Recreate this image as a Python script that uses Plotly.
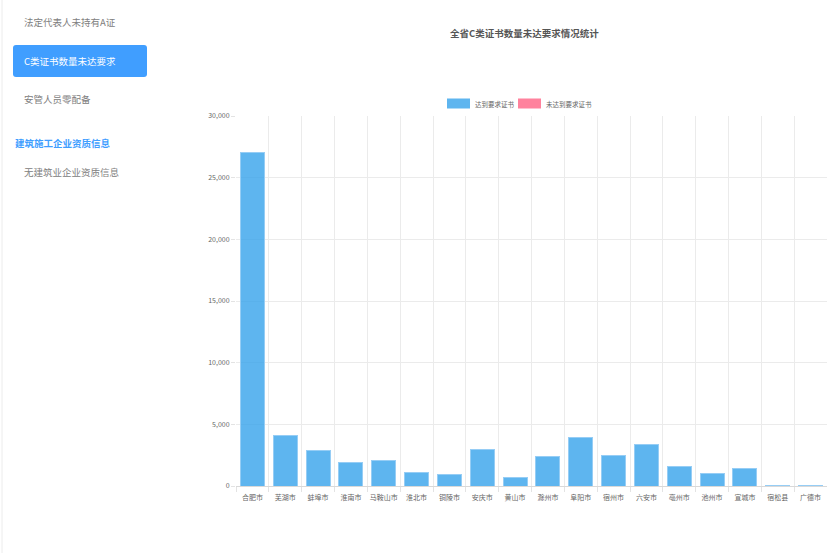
import plotly.graph_objects as go

cities = ["合肥市", "芜湖市", "蚌埠市", "淮南市", "马鞍山市", "淮北市", "铜陵市", "安庆市", "黄山市",
          "滁州市", "阜阳市", "宿州市", "六安市", "亳州市", "池州市", "宣城市", "宿松县", "广德市"]
met = [27050, 4120, 2840, 1870, 2090, 1060, 920, 2980, 650,
       2380, 3920, 2460, 3350, 1570, 1030, 1440, 30, 40]
unmet = [0] * len(cities)

series_names = ["达到要求证书", "未达到要求证书"]
series_colors = ["rgba(54,162,235,0.8)", "rgba(255,99,132,0.8)"]
y_ticks = [0, 5000, 10000, 15000, 20000, 25000, 30000]
y_ticktext = ["0", "5,000", "10,000", "15,000", "20,000", "25,000", "30,000"]

title_text = "全省C类证书数量未达要求情况统计"
menu_items = ["法定代表人未持有A证", "C类证书数量未达要求", "安管人员零配备"]
section_title = "建筑施工企业资质信息"
section_item = "无建筑业企业资质信息"

W, H = 827, 553
L, T = 236, 116
PW, PH = W - L, 370

def px(x):
    return (x - L) / PW

def py(y):
    return (T + PH - y) / PH

FONT = "Noto Sans CJK SC, sans-serif"

fig = go.Figure()
fig.add_trace(go.Bar(
    x=cities, y=met, name=series_names[0], showlegend=False,
    marker=dict(color=series_colors[0], line=dict(color="rgba(150,205,245,1)", width=1)),
))
fig.add_trace(go.Bar(
    x=cities, y=unmet, name=series_names[1], showlegend=False,
    marker=dict(color=series_colors[1], line=dict(width=0)),
))

shapes = []
# sidebar left border
shapes.append(dict(type="line", xref="paper", yref="paper", x0=px(2), x1=px(2), y0=py(0), y1=py(553),
                   line=dict(color="#ececec", width=1)))
# active menu button (rounded)
x0, x1, y0, y1, r = px(13), px(147), py(45), py(77), 3
rx, ry = r / PW, r / PH
path = (f"M {x0+rx},{y0} L {x1-rx},{y0} Q {x1},{y0} {x1},{y0-ry} L {x1},{y1+ry} Q {x1},{y1} {x1-rx},{y1} "
        f"L {x0+rx},{y1} Q {x0},{y1} {x0},{y1+ry} L {x0},{y0-ry} Q {x0},{y0} {x0+rx},{y0} Z")
shapes.append(dict(type="path", xref="paper", yref="paper", path=path,
                   fillcolor="#409eff", line=dict(width=0)))

annotations = []
menu_y = [22, 61, 99]
for i, item in enumerate(menu_items):
    annotations.append(dict(
        text=item, xref="paper", yref="paper", x=px(22), y=py(menu_y[i]),
        xanchor="left", yanchor="middle", showarrow=False,
        font=dict(family=FONT, size=9.5, color="#ffffff" if i == 1 else "#808080"),
    ))
annotations.append(dict(
    text=f"<b>{section_title}</b>", xref="paper", yref="paper", x=px(13), y=py(143),
    xanchor="left", yanchor="middle", showarrow=False,
    font=dict(family=FONT, size=9.5, color="#409eff"),
))
annotations.append(dict(
    text=section_item, xref="paper", yref="paper", x=px(22), y=py(172),
    xanchor="left", yanchor="middle", showarrow=False,
    font=dict(family=FONT, size=9.5, color="#808080"),
))
annotations.append(dict(
    text=f"<b>{title_text}</b>", xref="paper", yref="paper", x=px(524), y=py(33),
    xanchor="center", yanchor="middle", showarrow=False,
    font=dict(family=FONT, size=9.5, color="#555555"),
))

# custom legend (wide colour boxes like the reference)
legend_box_x = [447, 518]
for name, color, bx in zip(series_names, series_colors, legend_box_x):
    shapes.append(dict(type="rect", xref="paper", yref="paper", x0=px(bx), x1=px(bx + 23),
                       y0=py(98.5), y1=py(108.5), fillcolor=color, line=dict(width=0)))
    annotations.append(dict(text=name, xref="paper", yref="paper", x=px(bx + 26), y=py(103.5),
                            xanchor="left", yanchor="middle", showarrow=False,
                            font=dict(family=FONT, size=6.5, color="#666666")))

fig.update_layout(
    width=W, height=H,
    margin=dict(l=L, r=0, t=T, b=H - T - PH, autoexpand=False),
    paper_bgcolor="white", plot_bgcolor="white",
    barmode="stack", bargap=0.27,
    font=dict(family=FONT, size=7, color="#666666"),
    showlegend=False,
    shapes=shapes, annotations=annotations,
    xaxis=dict(type="category", tickson="boundaries", showgrid=True, gridcolor="#ebebeb",
               ticks="outside", ticklen=5, tickcolor="#e3e3e3", showline=True, linecolor="#d9d9d9",
               ticklabelstandoff=5,
               tickfont=dict(family=FONT, size=7, color="#666666"), tickangle=0, zeroline=False),
    yaxis=dict(range=[0, 30000], tickvals=y_ticks, ticktext=y_ticktext, showgrid=True,
               gridcolor="#ebebeb", ticks="outside", ticklen=4, tickcolor="#e3e3e3",
               zeroline=False, showline=False,
               tickfont=dict(family=FONT, size=7, color="#666666")),
)

fig.write_html("out.html", config={"displayModeBar": False},
               post_script="document.body.style.margin='0';")
